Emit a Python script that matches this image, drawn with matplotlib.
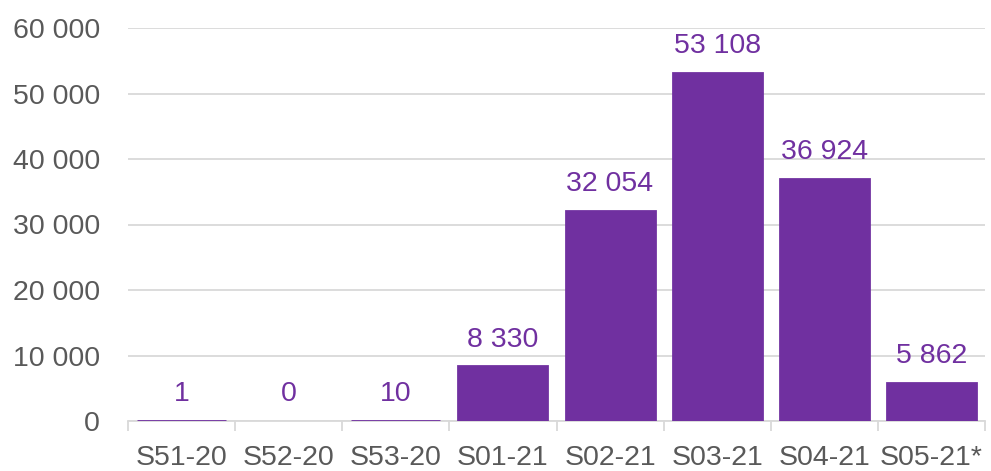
import matplotlib
matplotlib.use("Agg")
import matplotlib.pyplot as plt
from matplotlib.ticker import FuncFormatter, FixedLocator

categories = ["S51-20", "S52-20", "S53-20", "S01-21", "S02-21", "S03-21", "S04-21", "S05-21*"]
values = [1, 0, 10, 8330, 32054, 53108, 36924, 5862]
yticks = [0, 10000, 20000, 30000, 40000, 50000, 60000]

purple = "#7030A0"
grey_text = "#595959"
grid_col = "#D9D9D9"

plt.rcParams["font.family"] = ["Liberation Sans", "DejaVu Sans"]

def fmt(v):
    return f"{int(v):,}".replace(",", " ")

fig = plt.figure(figsize=(9.91, 4.71), dpi=100)
ax = fig.add_axes([128/991, 1 - 421/471, (985-128)/991, (421-28)/471])

x = list(range(len(categories)))
edge = [purple if v > 0 else "none" for v in values]
ax.bar(x, values, width=0.83, color=purple, edgecolor=edge, linewidth=2.0, zorder=3)

for xi, v in zip(x, values):
    ax.annotate(fmt(v), (xi, v), xytext=(0, 10), textcoords="offset points",
                ha="center", va="bottom", fontsize=20.5, color=purple)

ax.set_ylim(0, 60000)
ax.set_xlim(-0.5, len(categories) - 0.5)
ax.set_yticks(yticks)
ax.yaxis.set_major_formatter(FuncFormatter(lambda v, p: fmt(v)))
ax.grid(axis="y", color=grid_col, linewidth=1.3, zorder=0)
ax.set_axisbelow(True)

ax.set_xticks(x)
ax.set_xticklabels(categories)
ax.xaxis.set_minor_locator(FixedLocator([i - 0.5 for i in range(len(categories) + 1)]))
ax.tick_params(axis="x", which="major", length=0, pad=17, labelsize=20.5, labelcolor=grey_text)
ax.tick_params(axis="x", which="minor", length=7, width=1.3, color=grid_col)
ax.tick_params(axis="y", length=0, pad=20, labelsize=20.5, labelcolor=grey_text)

for s in ["top", "right", "left"]:
    ax.spines[s].set_visible(False)
ax.spines["bottom"].set_color(grid_col)
ax.spines["bottom"].set_linewidth(1.3)

fig.savefig("out.png", dpi=100)
